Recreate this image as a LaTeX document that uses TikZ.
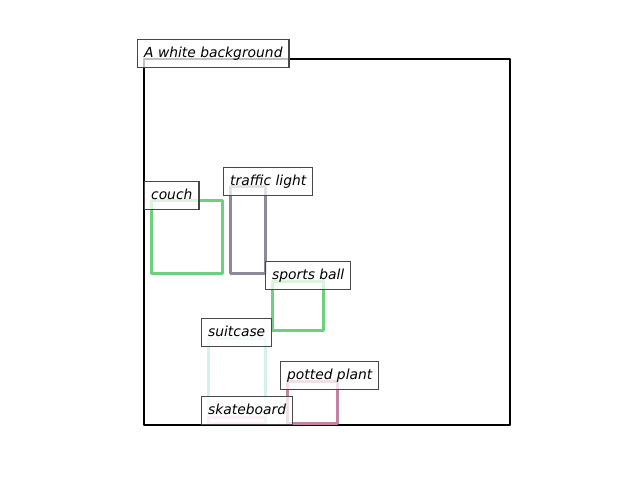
\documentclass[tikz,border=0pt]{standalone}
\usepackage{fontspec}
\setmainfont{DejaVu Sans}
\begin{document}
\begin{tikzpicture}[x=1bp,y=-1bp,
  bbox/.style={line width=3.0bp,line join=round},
  lbl/.style={draw=black!72,line width=1.3bp,fill=white,fill opacity=0.75,text opacity=1,
    anchor=south west,inner xsep=6.5bp,inner ysep=7bp,text height=11bp,text depth=3bp,
    font=\fontsize{13.9}{16}\selectfont\itshape}]
\useasboundingbox (0,0) rectangle (640,480);
\definecolor{cgreen}{RGB}{108,208,124}
\definecolor{cgray}{RGB}{140,138,150}
\definecolor{ccyan}{RGB}{210,242,234}
\definecolor{cmauve}{RGB}{196,130,162}
\definecolor{cpink}{RGB}{242,198,220}
% boxes
\draw[bbox,black,line width=2.8bp] (144,59) coordinate (bg) rectangle (510,425);
\draw[bbox,cgreen] (151,201) coordinate (couchc) rectangle (222,273);
\draw[bbox,cgray] (230,187) coordinate (tlc) rectangle (265,273);
\draw[bbox,cgreen] (272,281) coordinate (sbc) rectangle (323,330);
\draw[bbox,ccyan] (208,338) coordinate (suc) rectangle (265,423);
\draw[bbox,cmauve] (287,381) coordinate (ppc) rectangle (337,423);
\draw[bbox,cpink] (208,417) coordinate (skc) rectangle (265,423);
% labels
\node[lbl] (bgl) at ([shift={(-7,9)}]bg) {A white background};
\node[lbl] (couchl) at ([shift={(-7,9)}]couchc) {couch};
\node[lbl] (tll) at ([shift={(-7,9)}]tlc) {traffic light};
\node[lbl] (sbl) at ([shift={(-7,9)}]sbc) {sports ball};
\node[lbl] (sul) at ([shift={(-7,9)}]suc) {suitcase};
\node[lbl] (ppl) at ([shift={(-7,9)}]ppc) {potted plant};
\node[lbl] (skl) at ([shift={(-7,8)}]skc) {skateboard};
\end{tikzpicture}
\end{document}
